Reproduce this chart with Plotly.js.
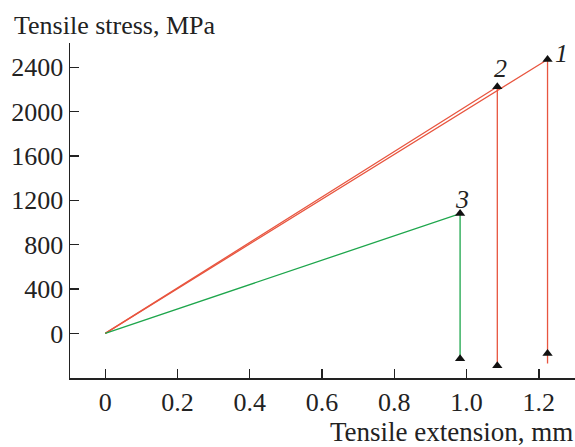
<!DOCTYPE html>
<html>
<head>
<meta charset="utf-8">
<script src="https://cdn.plot.ly/plotly-3.0.1.min.js"></script>
<style>html,body{margin:0;padding:0;background:#fff;}#chart{width:575px;height:447px;}</style>
</head>
<body>
<div id="chart"></div>
<script>
// Curve 1
const ext1 = [0, 1.224, 1.224];
const stress1 = [0, 2470, -272];
const mark1x = [1.224, 1.224];
const mark1y = [2470, -182];
// Curve 2
const ext2 = [0, 1.085, 1.085];
const stress2 = [0, 2225, -290];
const mark2x = [1.085, 1.085];
const mark2y = [2225, -291];
// Curve 3
const ext3 = [0, 0.982, 0.982];
const stress3 = [0, 1081, -228];
const mark3x = [0.982, 0.982];
const mark3y = [1081, -228];
// Curve labels
const labels = ['1', '2', '3'];
const labelX = [1.262, 1.095, 0.987];
const labelY = [2525, 2385, 1204];
const xTicks = [0, 0.2, 0.4, 0.6, 0.8, 1.0, 1.2];
const xTickText = ['0', '0.2', '0.4', '0.6', '0.8', '1.0', '1.2'];
const yTicks = [0, 400, 800, 1200, 1600, 2000, 2400];

const red = '#e8553f';
const green = '#1ea64c';
const font = 'Liberation Serif, Times New Roman, serif';
const txt = '#222';

const traces = [
  {x: ext1, y: stress1, mode: 'lines', line: {color: red, width: 1.3}},
  {x: ext2, y: stress2, mode: 'lines', line: {color: red, width: 1.3}},
  {x: ext3, y: stress3, mode: 'lines', line: {color: green, width: 1.3}},
  {x: mark1x.concat(mark2x, mark3x), y: mark1y.concat(mark2y, mark3y), mode: 'markers',
   marker: {symbol: 'triangle-up', size: 9, color: '#111'}}
];

const annotations = labels.map((t, i) => ({
  x: labelX[i], y: labelY[i], xref: 'x', yref: 'y', text: t, showarrow: false,
  font: {family: font, size: 26, color: txt, style: 'italic'}
}));
annotations.push({xref: 'paper', yref: 'paper', x: 1.0, y: -0.111, xanchor: 'right', yanchor: 'top',
  text: 'Tensile extension, mm', showarrow: false, font: {family: font, size: 27, color: txt}});
annotations.push({xref: 'paper', yref: 'paper', x: -0.115, y: 1.003, xanchor: 'left', yanchor: 'bottom',
  text: 'Tensile stress, MPa', showarrow: false, font: {family: font, size: 26, color: txt}});

const layout = {
  width: 575, height: 447,
  margin: {l: 70, r: 0, t: 43, b: 69},
  paper_bgcolor: '#fff', plot_bgcolor: '#fff',
  showlegend: false,
  font: {family: font, size: 26, color: txt},
  xaxis: {range: [-0.0975, 1.3], tickvals: xTicks, ticktext: xTickText, ticks: 'inside', ticklen: 9,
    tickwidth: 1.3, tickcolor: txt, showline: true, linecolor: txt, linewidth: 1.5,
    showgrid: false, zeroline: false, tickfont: {family: font, size: 26, color: txt}},
  yaxis: {range: [-402, 2619], tickvals: yTicks, ticks: 'inside', ticklen: 9,
    tickwidth: 1.3, tickcolor: txt, showline: true, linecolor: txt, linewidth: 1.5,
    showgrid: false, zeroline: false, tickfont: {family: font, size: 26, color: txt}},
  annotations: annotations
};

Plotly.newPlot('chart', traces, layout, {displayModeBar: false, staticPlot: true});
</script>
</body>
</html>
